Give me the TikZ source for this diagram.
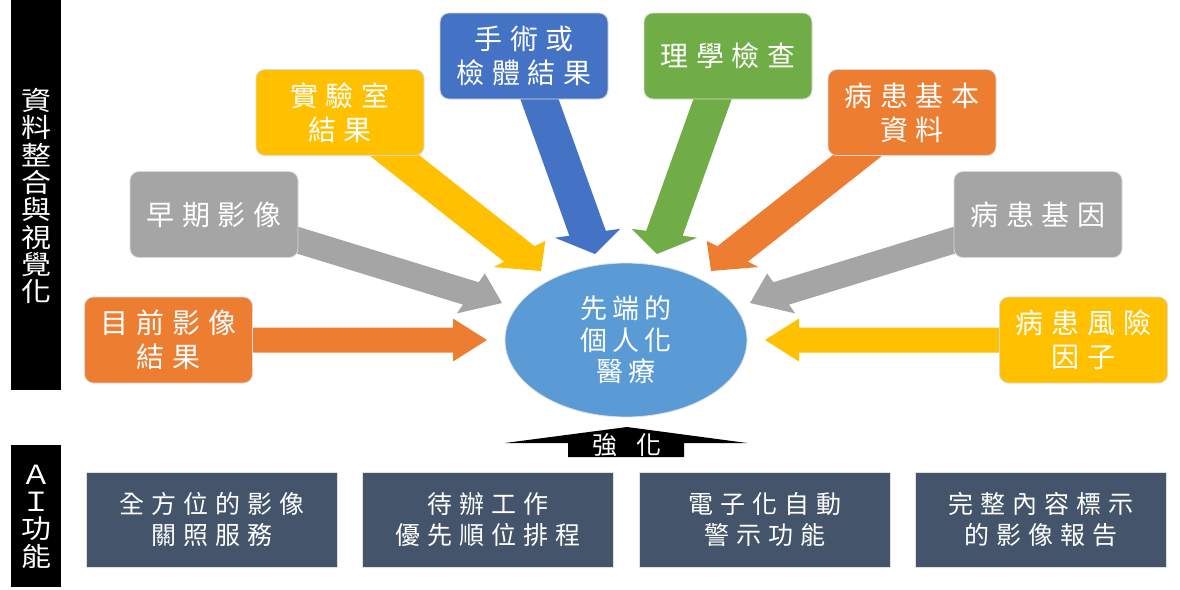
\documentclass[tikz,border=0pt]{standalone}
\usepackage{fontspec}
\usetikzlibrary{shapes.geometric,calc,backgrounds}
\newfontfamily\boxfont[LetterSpace=28]{Noto Sans CJK TC}
\newfontfamily\ellfont[LetterSpace=20]{Noto Sans CJK TC}
\newfontfamily\plainfont{Noto Sans CJK TC}
\definecolor{cOrange}{HTML}{ED7D31}
\definecolor{cGray}{HTML}{A5A5A5}
\definecolor{cGold}{HTML}{FFC000}
\definecolor{cBlue}{HTML}{4472C4}
\definecolor{cGreen}{HTML}{70AD47}
\definecolor{cEll}{HTML}{5B9BD5}
\definecolor{cSlate}{HTML}{44546A}
% #1 start, #2 tip, #3 shaft half width, #4 head half width, #5 head length, #6 skew, #7 colour
\newcommand\blockarrow[7]{%
  \coordinate (ab) at ($(#2)!#5pt!(#1)$);
  \pgfmathsetmacro\shk{#3/cos(#6)}%
  \pgfmathsetmacro\angA{90+#6}%
  \pgfmathsetmacro\angB{-90+#6}%
  \fill[#7] ($(#1)!#3pt!90:(#2)$) -- ($(ab)!\shk pt!\angA:(#2)$) -- ($(ab)!#4pt!\angA:(#2)$)
    -- (#2) -- ($(ab)!#4pt!\angB:(#2)$) -- ($(ab)!\shk pt!\angB:(#2)$) -- ($(#1)!#3pt!-90:(#2)$) -- cycle;}
\begin{document}
\begin{tikzpicture}[x=1pt,y=-1pt,
  tbox/.style={rounded corners=9pt, minimum width=168pt, minimum height=86pt, inner sep=0pt,
    draw=black!15, line width=0.8pt, text=white, align=center,
    font=\boxfont\fontsize{28}{34}\selectfont},
  bbox/.style={fill=cSlate, minimum width=251pt, minimum height=95pt, inner sep=0pt,
    draw=black!12, line width=0.8pt, text=white, align=center,
    font=\boxfont\fontsize{25}{31}\selectfont},
  bar/.style={fill=black, minimum width=50pt, inner sep=0pt},
  bartext/.style={text=white, align=center, inner sep=0pt, yscale=0.88,
    font=\plainfont\fontsize{30}{31.1}\selectfont}]
\useasboundingbox (0,0) rectangle (1180,589);

% side bars
\node[bar, minimum height=390pt] (bar1) at (36,195) {};
\node[bartext] (lbl1) at (36,196) {資\\料\\整\\合\\與\\視\\覺\\化};
\node[bar, minimum height=142pt] (bar2) at (36,516) {};
\node[bartext] (lbl2) at (36,516.5) {Ａ\\Ｉ\\功\\能};

% source boxes
\node[tbox, fill=cOrange] (cur)   at (168.5,340) {目前影像\\結果};
\node[tbox, fill=cGray]   (early) at (214,214.5) {早期影像};
\node[tbox, fill=cGold]   (lab)   at (340,112.5) {實驗室\\結果};
\node[tbox, fill=cBlue]   (surg)  at (524,56)    {手術或\\檢體結果};
\node[tbox, fill=cGreen]  (phys)  at (728,56)    {理學檢查};
\node[tbox, fill=cOrange] (basic) at (912,112.5) {病患基本\\資料};
\node[tbox, fill=cGray]   (gene)  at (1038,214.5) {病患基因};
\node[tbox, fill=cGold]   (risk)  at (1083.5,340) {病患風險\\因子};

% centre
\node[ellipse, fill=cEll, draw=black!12, line width=0.8pt, minimum width=242pt, minimum height=154pt,
  inner sep=0pt, text=white, align=center, font=\ellfont\fontsize{27}{31.5}\selectfont]
  (core) at (626,340) {先端的\\個人化\\醫療};

% arrow tips
\coordinate (t-cur)   at (487,340);
\coordinate (t-early) at (502,303);
\coordinate (t-lab)   at (541,271);
\coordinate (t-surg)  at (595,254);
\coordinate (t-phys)  at (657,254);
\coordinate (t-basic) at (711,271);
\coordinate (t-gene)  at (750,303);
\coordinate (t-risk)  at (765,340);

\begin{pgfonlayer}{background}
  \fill[white] (0,0) rectangle (1180,589);
  \blockarrow{cur.center}{t-cur}{12.5}{21.5}{34}{0}{cOrange}
  \blockarrow{early.center}{t-early}{13}{24.4}{32.6}{-18}{cGray}
  \blockarrow{lab.center}{t-lab}{15.5}{29}{27.5}{-25}{cGold}
  \blockarrow{surg.center}{t-surg}{18}{33}{22}{-12}{cBlue}
  \blockarrow{phys.center}{t-phys}{18}{33}{22}{12}{cGreen}
  \blockarrow{basic.center}{t-basic}{15.5}{29}{27.5}{25}{cOrange}
  \blockarrow{gene.center}{t-gene}{13}{24.4}{32.6}{18}{cGray}
  \blockarrow{risk.center}{t-risk}{12.5}{21.5}{34}{0}{cGold}
\end{pgfonlayer}

% enhance callout
\fill[black] (505,443) -- (627,427) -- (747,443) -- (684,443) -- (684,457) -- (568,457) -- (568,443) -- cycle;
\node[text=white, inner sep=0pt, font=\plainfont\fontsize{25}{25}\selectfont] (boost) at (627,445) {強\hspace{19pt}化};

% AI function boxes
\node[bbox] (b1) at (211.5,519.5) {全方位的影像\\關照服務};
\node[bbox] (b2) at (487.5,519.5) {待辦工作\\優先順位排程};
\node[bbox] (b3) at (764.5,519.5) {電子化自動\\警示功能};
\node[bbox] (b4) at (1041,519.5) {完整內容標示\\的影像報告};
\end{tikzpicture}
\end{document}
